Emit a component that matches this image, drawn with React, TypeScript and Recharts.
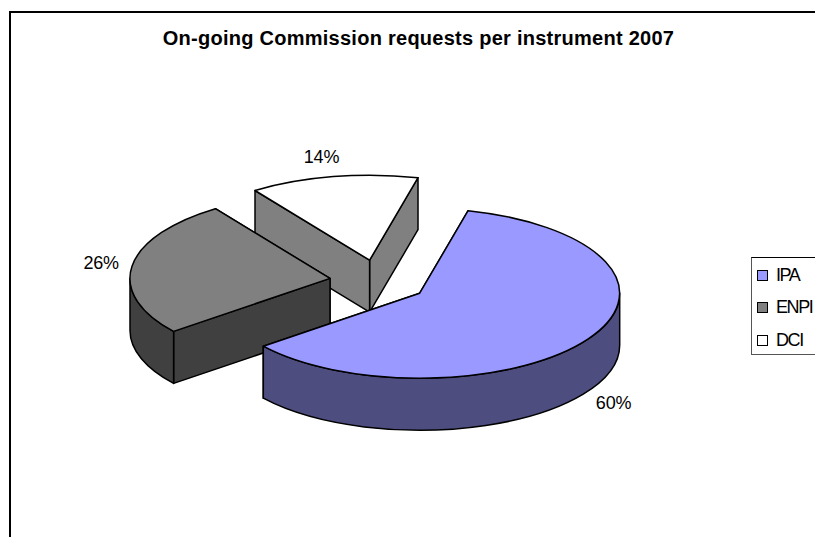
import React from "react";
import { PieChart, Pie, Legend } from "recharts";

// Drawn in reverse so the front slice paints last; the legend reverses it back.
const categories = ["DCI", "ENPI", "IPA"];
const shares = [13.6, 26.0, 60.4];
const topColors = ["#ffffff", "#808080", "#9999ff"];
const wallColors = ["#808080", "#404040", "#4d4d80"];
const chartTitle = "On-going Commission requests per instrument 2007";

const data = categories.map((name, i) => ({
  name,
  value: shares[i],
  fill: topColors[i],
  wall: wallColors[i],
}));

const CX = 378.5;
const CY = 281.5;
const RX = 200;
const RY = 85;
const DEPTH = 52;
const EXPLODE_X = 0.245;
const EXPLODE_Y = 0.255;
const RAD = Math.PI / 180;
const FONT = "'Liberation Sans', Arial, sans-serif";

const center = (start: number, end: number) => {
  const mid = ((start + end) / 2) * RAD;
  return {
    x: CX + EXPLODE_X * RX * Math.cos(mid),
    y: CY - EXPLODE_Y * RY * Math.sin(mid),
  };
};

const pt = (c: { x: number; y: number }, deg: number, dz = 0) => ({
  x: c.x + RX * Math.cos(deg * RAD),
  y: c.y - RY * Math.sin(deg * RAD) + dz,
});

const P = (p: { x: number; y: number }) => `${p.x.toFixed(1)} ${p.y.toFixed(1)}`;

const Slice3D = (props: any) => {
  const { startAngle, endAngle, fill, payload } = props;
  const a0 = Math.min(startAngle, endAngle);
  const a1 = Math.max(startAngle, endAngle);
  const c = center(a0, a1);
  const wall = payload?.wall ?? props.wall;
  const s = pt(c, a0);
  const e = pt(c, a1);
  const large = a1 - a0 > 180 ? 1 : 0;
  const top = `M ${P(c)} L ${P(s)} A ${RX} ${RY} 0 ${large} 0 ${P(e)} Z`;
  const edge = (p: { x: number; y: number }) =>
    `M ${P(c)} L ${P(p)} L ${p.x.toFixed(1)} ${(p.y + DEPTH).toFixed(1)} L ${c.x.toFixed(1)} ${(c.y + DEPTH).toFixed(1)} Z`;

  // Outer rim: only the part of the ellipse that faces the viewer (180..360 degrees).
  const rims: string[] = [];
  for (const offset of [0, 360, -360]) {
    const from = Math.max(a0 + offset, 180);
    const to = Math.min(a1 + offset, 360);
    if (to > from) {
      const p0 = pt(c, from);
      const p1 = pt(c, to);
      rims.push(
        `M ${P(p0)} A ${RX} ${RY} 0 0 0 ${P(p1)} L ${p1.x.toFixed(1)} ${(p1.y + DEPTH).toFixed(1)} A ${RX} ${RY} 0 0 1 ${p0.x.toFixed(1)} ${(p0.y + DEPTH).toFixed(1)} Z`
      );
    }
  }
  const common = { stroke: "#000", strokeWidth: 1.5, strokeLinejoin: "round" as const };
  return (
    <g>
      <path d={edge(s)} fill={wall} {...common} />
      <path d={edge(e)} fill={wall} {...common} />
      {rims.map((d, i) => (
        <path key={i} d={d} fill={wall} {...common} />
      ))}
      <path d={top} fill={fill} {...common} />
    </g>
  );
};

const renderLabel = (props: any) => {
  const { startAngle, endAngle, value } = props;
  const a0 = Math.min(startAngle, endAngle);
  const a1 = Math.max(startAngle, endAngle);
  const c = center(a0, a1);
  const mid = ((a0 + a1) / 2) * RAD;
  const sin = Math.sin(mid);
  const x = c.x + 229 * Math.cos(mid) - 5 * sin - 1.5;
  const y = c.y - 105 * sin + (sin < 0 ? 53 : 0);
  return (
    <text
      x={x}
      y={y}
      textAnchor="middle"
      dominantBaseline="central"
      fontFamily={FONT}
      fontSize={18}
      letterSpacing={-0.2}
      fill="#000"
    >
      {`${Math.round(value)}%`}
    </text>
  );
};

const LegendBox = ({ payload }: any) => {
  const items = [...(payload ?? [])].reverse();
  return (
    <div
      style={{
        position: "absolute",
        left: 751,
        top: 257,
        width: 70,
        height: 98,
        boxSizing: "border-box",
        border: "1px solid #555",
        borderTopColor: "#000",
        background: "#fff",
        fontFamily: FONT,
        fontSize: 18,
        letterSpacing: -1.4,
      }}
    >
      {items.map((it: any, i: number) => (
        <div
          key={it.value}
          style={{
            position: "absolute",
            left: 5,
            top: 7 + i * 32.5,
            height: 20,
            display: "flex",
            alignItems: "center",
            whiteSpace: "nowrap",
          }}
        >
          <span
            style={{
              display: "inline-block",
              width: 11,
              height: 11,
              boxSizing: "border-box",
              border: "1.5px solid #000",
              background: it.payload?.fill ?? it.color,
              marginRight: 8,
            }}
          />
          {it.value}
        </div>
      ))}
    </div>
  );
};

export default function App() {
  return (
    <div style={{ position: "absolute", left: 0, top: 0, width: 815, height: 537, overflow: "hidden", background: "#fff" }}>
      <div
        style={{
          position: "absolute",
          left: 9,
          top: 11,
          width: 830,
          height: 560,
          boxSizing: "border-box",
          borderLeft: "2px solid #000",
          borderTop: "2px solid #000",
        }}
      />
      <div
        style={{
          position: "absolute",
          left: 0,
          top: 26,
          width: 837,
          textAlign: "center",
          fontFamily: FONT,
          fontWeight: "bold",
          fontSize: 20,
          letterSpacing: 0.26,
          lineHeight: "24px",
        }}
      >
        {chartTitle}
      </div>
      <PieChart width={815} height={537} style={{ position: "absolute", left: 0, top: 0 }} margin={{ top: 0, right: 0, bottom: 0, left: 0 }}>
        <Pie
          data={data}
          dataKey="value"
          nameKey="name"
          cx={CX}
          cy={CY}
          outerRadius={RX}
          startAngle={76}
          endAngle={436}
          paddingAngle={0}
          stroke="#000"
          shape={Slice3D}
          label={renderLabel}
          labelLine={false}
          isAnimationActive={false}
        />
        <Legend content={LegendBox} wrapperStyle={{ position: "absolute", left: 0, top: 0, width: 0, height: 0 }} />
      </PieChart>
    </div>
  );
}
